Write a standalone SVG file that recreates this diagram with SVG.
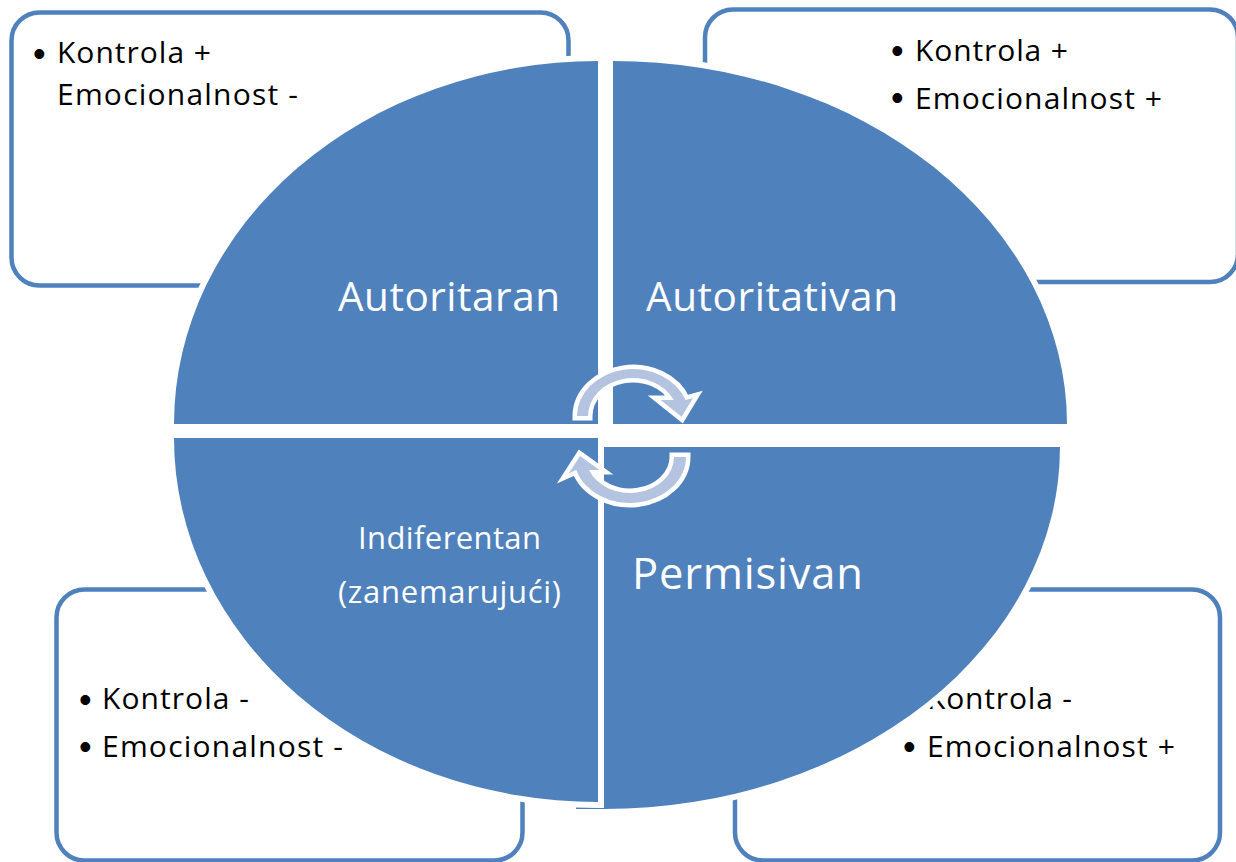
<svg xmlns="http://www.w3.org/2000/svg" width="1236" height="862" viewBox="0 0 1236 862">
<style>
.box{fill:#ffffff;stroke:#4f81bd;stroke-width:4.5}
.quad{fill:#4f81bd;stroke:#ffffff;stroke-width:12;paint-order:stroke;stroke-linejoin:miter}
.bt{font-family:"Open Sans","Liberation Sans",sans-serif;font-size:30px;fill:#000000}
.bul{font-family:"Liberation Sans",sans-serif;font-size:36px;fill:#000000}
.ql{font-family:"Open Sans","Liberation Sans",sans-serif;fill:#ffffff}
.arr{fill:#b4c4e0;stroke:#ffffff;stroke-width:9;paint-order:stroke;stroke-linejoin:miter}
</style>
<rect width="1236" height="862" fill="#ffffff"/>
<g id="box-tl">
<rect class="box" x="11.5" y="12.5" width="557" height="273" rx="28"/>
<text class="bul" x="33" y="66">•</text>
<text class="bt" x="57" y="63" textLength="154" lengthAdjust="spacing">Kontrola +</text>
<text class="bt" x="57" y="105" textLength="241" lengthAdjust="spacing">Emocionalnost -</text>
</g>
<g id="box-tr">
<rect class="box" x="705" y="9.5" width="533" height="272.5" rx="28"/>
<text class="bul" x="891" y="63">•</text>
<text class="bt" x="915" y="61" textLength="153" lengthAdjust="spacing">Kontrola +</text>
<text class="bul" x="891" y="110">•</text>
<text class="bt" x="915" y="109" textLength="247" lengthAdjust="spacing">Emocionalnost +</text>
</g>
<g id="box-bl">
<rect class="box" x="56.5" y="589.5" width="466" height="271" rx="28"/>
<text class="bul" x="79" y="712">•</text>
<text class="bt" x="102" y="709" textLength="147" lengthAdjust="spacing">Kontrola -</text>
<text class="bul" x="79" y="759">•</text>
<text class="bt" x="102" y="757" textLength="241" lengthAdjust="spacing">Emocionalnost -</text>
</g>
<g id="box-br">
<rect class="box" x="735" y="589.5" width="485" height="271" rx="28"/>
<text class="bul" x="903" y="712">•</text>
<text class="bt" x="927" y="709" textLength="145" lengthAdjust="spacing">Kontrola -</text>
<text class="bul" x="903" y="759">•</text>
<text class="bt" x="927" y="757" textLength="248" lengthAdjust="spacing">Emocionalnost +</text>
</g>
<g id="quad-tl">
<path class="quad" d="M598,424 L174,424 A424 363 0 0 1 598,61 Z"/>
<text class="ql" x="338" y="311" font-size="40.5" textLength="222" lengthAdjust="spacing">Autoritaran</text>
</g>
<g id="quad-tr">
<path class="quad" d="M613,424 L613,61 A454 363 0 0 1 1067,424 Z"/>
<text class="ql" x="646" y="311" font-size="40.5" textLength="252" lengthAdjust="spacing">Autoritativan</text>
</g>
<g id="quad-br">
<path class="quad" d="M576,447 L1060,447 A456 362 0 0 1 604,809 L576,809 Z"/>
<text class="ql" x="632" y="589" font-size="43.5" textLength="231" lengthAdjust="spacing">Permisivan</text>
</g>
<g id="quad-bl">
<path class="quad" d="M598,438 L598,802 A424 364 0 0 1 174,438 Z"/>
<text class="ql" x="358" y="549" font-size="31" textLength="183" lengthAdjust="spacing">Indiferentan</text>
<text class="ql" x="338" y="603" font-size="31" textLength="223" lengthAdjust="spacing">(zanemarujući)</text>
</g>
<g id="connectors">
<path class="arr" d="M577,416 A56 47 0 0 1 685.6,400 L693,398 L681.6,416.7 L660.6,400 L673.8,400 A45 38 0 0 0 588,416 Z"/>
<path class="arr" d="M686,457 A56 46 0 0 1 576.3,470 L568.8,473.3 L580,456 L599.4,470 L589,470 A44 36 0 0 0 674,457 Z"/>
</g>
</svg>
